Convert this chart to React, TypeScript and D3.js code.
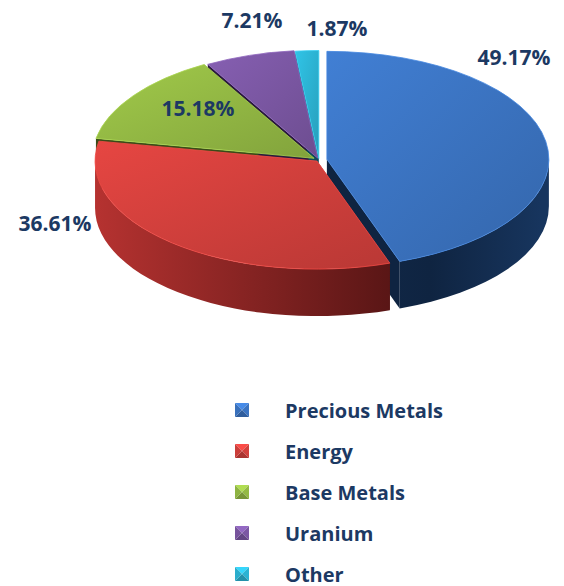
import React from 'react'
import * as d3 from 'd3'

const categories = ['Precious Metals', 'Energy', 'Base Metals', 'Uranium', 'Other']
const values = [49.17, 36.61, 15.18, 7.21, 1.87]
const labels = ['49.17%', '36.61%', '15.18%', '7.21%', '1.87%']

// top face / side wall colours
const topColors = ['#3b74c2', '#d2403c', '#93b944', '#7b57a3', '#2cb3d3']
const sideColors = ['#17355e', '#8e2523', '#56692a', '#3e2856', '#1a7088']
const sideDark = ['#0f2441', '#4d1212', '#3a4a18', '#2a1a3c', '#0f4a5a']

// layout
const W = 564
const H = 586
const cx = 319
const cy = 160
const rx = 222
const ry = 108
const depth = 47
const explode = [8, 3, 6, 4, 3]
const labelAnchors: [number, number][] = [[514, 57], [55, 223], [198, 108], [252, 20], [337, 28]]
const legendX = 235
const legendTextX = 285
const legendTop = 410
const legendStep = 41
const textColor = '#1c3963'
const font = '"Open Sans", "DejaVu Sans", sans-serif'

const pt = (a: number, ox: number, oy: number, dz = 0): [number, number] => [
    cx + ox + rx * Math.sin(a),
    cy + oy - ry * Math.cos(a) + dz
]

const App = () => {
    const pie = d3.pie<number>().sort(null).value(d => d)
    const arcs = pie(values)

    const slices = arcs.map((a, i) => {
        const mid = (a.startAngle + a.endAngle) / 2
        const ox = explode[i] * Math.sin(mid)
        const oy = -explode[i] * Math.cos(mid) * (ry / rx)
        const s = a.startAngle
        const e = a.endAngle
        const large = e - s > Math.PI ? 1 : 0
        const c = [cx + ox, cy + oy]
        const p0 = pt(s, ox, oy)
        const p1 = pt(e, ox, oy)
        const top = `M${c[0]},${c[1]}L${p0[0]},${p0[1]}A${rx},${ry} 0 ${large} 1 ${p1[0]},${p1[1]}Z`

        // outer wall only for the front half
        let outer: string | null = null
        const fs = Math.max(s, Math.PI / 2)
        const fe = Math.min(e, Math.PI * 1.5)
        if (fe > fs) {
            const q0 = pt(fs, ox, oy)
            const q1 = pt(fe, ox, oy)
            const q1d = pt(fe, ox, oy, depth)
            const q0d = pt(fs, ox, oy, depth)
            const lg = fe - fs > Math.PI ? 1 : 0
            outer = `M${q0[0]},${q0[1]}A${rx},${ry} 0 ${lg} 1 ${q1[0]},${q1[1]}L${q1d[0]},${q1d[1]}A${rx},${ry} 0 ${lg} 0 ${q0d[0]},${q0d[1]}Z`
        }

        const radial = [s, e].map(ang => {
            const p = pt(ang, ox, oy)
            return `M${c[0]},${c[1]}L${p[0]},${p[1]}L${p[0]},${p[1] + depth}L${c[0]},${c[1] + depth}Z`
        })
        return { i, top, outer, radial }
    })

    return (
        <svg width={W} height={H} style={{ display: 'block', position: 'absolute', left: 0, top: 0 }}>
            <defs>
                {topColors.map((col, i) => (
                    <linearGradient key={'t' + i} id={'top' + i} x1="0" y1="0" x2="1" y2="1">
                        <stop offset="0" stopColor={d3.color(col)!.brighter(0.25).formatHex()} />
                        <stop offset="1" stopColor={d3.color(col)!.darker(0.35).formatHex()} />
                    </linearGradient>
                ))}
                {sideColors.map((col, i) => (
                    <linearGradient key={'s' + i} id={'side' + i} gradientUnits="userSpaceOnUse"
                        x1={cx - rx} y1="0" x2={cx + rx} y2="0">
                        <stop offset="0" stopColor={i === 1 ? '#b53230' : col} />
                        <stop offset="0.75" stopColor={sideDark[i]} />
                        <stop offset="1" stopColor={col} />
                    </linearGradient>
                ))}
            </defs>
            <rect width={W} height={H} fill="#ffffff" />

            {slices.map(s => s.radial.map((d, k) => (
                <path key={`r${s.i}-${k}`} d={d} fill={sideDark[s.i]} />
            )))}
            {slices.map(s => s.outer && (
                <path key={'o' + s.i} d={s.outer} fill={`url(#side${s.i})`} />
            ))}
            {slices.map(s => (
                <path key={'t' + s.i} d={s.top} fill={`url(#top${s.i})`}
                    stroke={d3.color(topColors[s.i])!.brighter(0.4).formatHex()} strokeWidth={0.8} />
            ))}

            {labels.map((t, i) => (
                <text key={'l' + i} x={labelAnchors[i][0]} y={labelAnchors[i][1]} textAnchor="middle"
                    dominantBaseline="central" fontFamily={font} fontWeight="bold" fontSize={21}
                    fill={textColor}>{t}</text>
            ))}

            {categories.map((name, i) => {
                const y = legendTop + i * legendStep
                const s = 14
                const x0 = legendX
                const y0 = y - s / 2
                const m = [x0 + s / 2, y]
                const col = d3.color(topColors[i])!
                return (
                    <g key={'g' + i}>
                        <polygon points={`${x0},${y0} ${x0 + s},${y0} ${m[0]},${m[1]}`} fill={col.brighter(0.5).formatHex()} />
                        <polygon points={`${x0 + s},${y0} ${x0 + s},${y0 + s} ${m[0]},${m[1]}`} fill={col.formatHex()} />
                        <polygon points={`${x0},${y0 + s} ${x0 + s},${y0 + s} ${m[0]},${m[1]}`} fill={col.darker(0.6).formatHex()} />
                        <polygon points={`${x0},${y0} ${x0},${y0 + s} ${m[0]},${m[1]}`} fill={col.darker(0.1).formatHex()} />
                        <text x={legendTextX} y={y} dominantBaseline="central" fontFamily={font}
                            fontWeight="bold" fontSize={20} fill={textColor}>{name}</text>
                    </g>
                )
            })}
        </svg>
    )
}

export default App
